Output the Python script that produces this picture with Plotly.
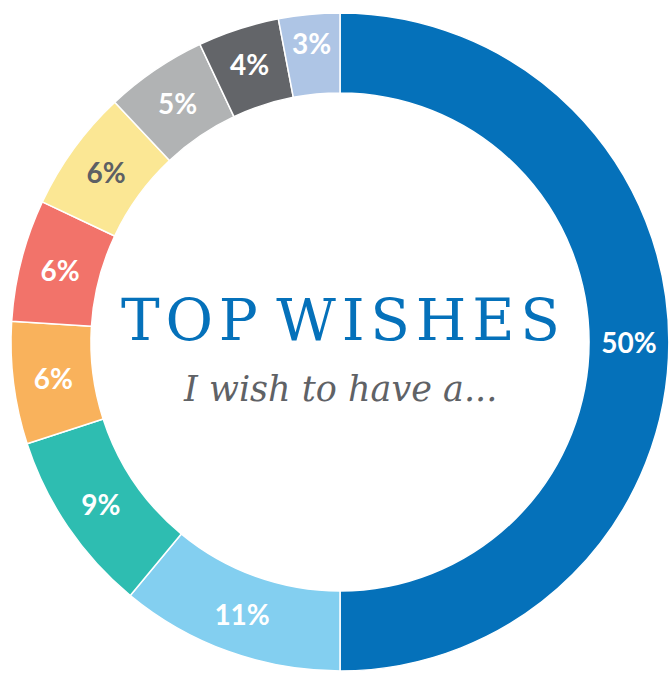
import plotly.graph_objects as go

categories = ["Wish A", "Wish B", "Wish C", "Wish D", "Wish E", "Wish F", "Wish G", "Wish H", "Wish I"]
values = [50, 11, 9, 6, 6, 6, 5, 4, 3]
labels_text = ["50%", "11%", "9%", "6%", "6%", "6%", "5%", "4%", "3%"]
colors = ["#0571ba", "#83cff0", "#2ebdb1", "#f9b25c", "#f2736a", "#fbe794", "#b1b3b4", "#636569", "#aec5e5"]
text_colors = ["white", "white", "white", "white", "white", "#5d6064", "white", "white", "white"]
title_text = "T\u200aO\u200aP W\u200aI\u200aS\u200aH\u200aE\u200aS"
subtitle_text = "I wish to have a..."

W, H = 669, 675
cx, cy, r = 340, 342, 329

fig = go.Figure(go.Pie(
    labels=categories,
    values=values,
    text=labels_text,
    textinfo="text",
    textposition="inside",
    insidetextorientation="horizontal",
    sort=False,
    direction="clockwise",
    rotation=0,
    hole=0.757,
    marker=dict(colors=colors, line=dict(color="white", width=1.5)),
    textfont=dict(family="Lato", size=28, color=text_colors, weight="bold"),
    showlegend=False,
    hoverinfo="skip",
    domain=dict(x=[(cx - r) / W, (cx + r) / W], y=[(H - cy - r) / H, (H - cy + r) / H]),
))

fig.add_annotation(
    x=(cx + 1) / W, y=(H - cy + 22) / H, xref="paper", yref="paper",
    text=title_text, showarrow=False,
    font=dict(family="DejaVu Serif", size=58, color="#0571ba"),
)
fig.add_annotation(
    x=cx / W, y=(H - cy - 47) / H, xref="paper", yref="paper",
    text=subtitle_text, showarrow=False,
    font=dict(family="DejaVu Serif", size=35, color="#5f6266", style="italic"),
)

fig.update_layout(
    width=W, height=H,
    margin=dict(l=0, r=0, t=0, b=0),
    paper_bgcolor="white", plot_bgcolor="white",
)

fig.write_html(
    "out.html",
    config={"displayModeBar": False},
    post_script="document.body.style.margin='0';document.body.style.overflow='hidden';",
)
